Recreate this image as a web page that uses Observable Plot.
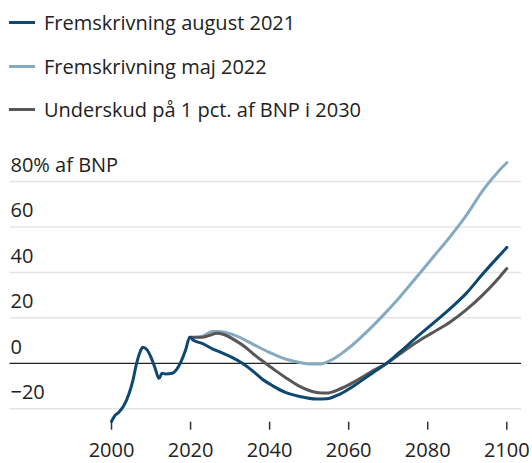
<!DOCTYPE html>
<html>
<head>
<meta charset="utf-8">
<script src="https://cdn.jsdelivr.net/npm/d3@7"></script>
<script src="https://cdn.jsdelivr.net/npm/@observablehq/plot@0.6"></script>
<style>
  html, body { margin: 0; padding: 0; background: #fff; }
  body { width: 532px; height: 463px; overflow: hidden; font-family: "Open Sans", sans-serif; color: #222; }
  #legend { height: 135px; box-sizing: border-box; padding-top: 1px; }
  .row { height: 43.5px; display: flex; align-items: center; font-size: 20px; }
  .sw { width: 26px; height: 3px; margin-left: 9px; margin-right: 9px; }
</style>
</head>
<body>
<div id="legend"></div>
<div id="chart"></div>
<script>
const seriesNames = ["Fremskrivning august 2021", "Fremskrivning maj 2022", "Underskud på 1 pct. af BNP i 2030"];
const seriesColors = ["#0c4870", "#86aac2", "#575757"];

const aug2021Years = [2000.0, 2000.8, 2001.8, 2003.1, 2004.4, 2005.4, 2006.3, 2007.2, 2007.9, 2009.0, 2010.0, 2011.1, 2012.0, 2012.8, 2013.7, 2015.4, 2016.4, 2017.5, 2018.7, 2019.8, 2020.8, 2022.9, 2025.5, 2028.0, 2030.5, 2033.1, 2035.6, 2038.1, 2040.7, 2044.0, 2047.6, 2051.9, 2054.4, 2057.8, 2062.0, 2066.2, 2069.6, 2072.9, 2077.2, 2081.4, 2085.6, 2089.8, 2094.0, 2098.2, 2100];
const aug2021Values = [-25.6, -23.1, -21.6, -18.7, -13.5, -7.6, -0.3, 4.9, 7.1, 5.9, 2.6, -2.5, -6.6, -4.4, -4.7, -4.4, -2.9, 0.4, 5.6, 11.5, 10.0, 8.8, 6.4, 4.6, 2.6, 0, -3.2, -6.9, -9.8, -12.8, -14.6, -15.7, -15.6, -13.5, -9.1, -4.0, 0, 4.9, 11.5, 17.7, 24.0, 30.9, 39.5, 47.6, 51.0];

const maj2022Years = [2021.2, 2022.9, 2025.5, 2027.2, 2031.4, 2035.6, 2039.8, 2044.0, 2047.6, 2050.2, 2052.7, 2056.1, 2060.3, 2064.5, 2068.7, 2072.9, 2077.2, 2081.4, 2085.6, 2089.8, 2094.0, 2098.2, 2100];
const maj2022Values = [11.5, 11.8, 14.0, 14.0, 12.2, 8.6, 4.9, 1.9, 0.4, -0.3, -0.3, 1.9, 7.1, 13.7, 21.1, 29.1, 38.0, 46.8, 55.6, 65.2, 76.2, 85.1, 88.3];

const deficitYears = [2019.8, 2021.2, 2022.9, 2024.6, 2026.7, 2028.4, 2031.4, 2033.9, 2036.4, 2039.0, 2041.5, 2044.0, 2047.6, 2051.9, 2054.4, 2057.8, 2062.0, 2066.2, 2069.6, 2072.9, 2077.2, 2081.4, 2085.6, 2089.8, 2094.0, 2098.2, 2100];
const deficitValues = [11.5, 11.5, 11.5, 12.2, 13.2, 12.7, 10.0, 7.1, 3.4, 0, -3.2, -6.2, -10.1, -12.8, -13.1, -11.3, -7.6, -3.2, 0, 4.1, 9.3, 13.7, 18.1, 23.6, 30.2, 38.0, 41.7];

const xTicks = [2000, 2020, 2040, 2060, 2080, 2100];
const yTicks = [-20, 0, 20, 40, 60, 80];
const yTickLabels = ["−20", "0", "20", "40", "60", "80% af BNP"];

const toRows = (ys, vs, s) => ys.map((y, i) => ({year: y, value: vs[i], series: s}));
const aug = toRows(aug2021Years, aug2021Values, seriesNames[0]);
const maj = toRows(maj2022Years, maj2022Values, seriesNames[1]);
const def = toRows(deficitYears, deficitValues, seriesNames[2]);

// legend
const legend = document.getElementById("legend");
seriesNames.forEach((n, i) => {
  const r = document.createElement("div");
  r.className = "row";
  r.innerHTML = `<span class="sw" style="background:${seriesColors[i]}"></span><span>${n}</span>`;
  legend.appendChild(r);
});

const chart = Plot.plot({
  width: 532,
  height: 328,
  marginLeft: 9.5,
  marginRight: 11,
  marginTop: 46,
  marginBottom: 41.3,
  style: {fontFamily: "Open Sans", fontSize: "20px", color: "#222", background: "#fff", overflow: "visible"},
  x: {domain: [1974.32, 2103.72], label: null},
  y: {domain: [-25.9, 80], label: null},
  marks: [
    Plot.ruleY(yTicks.filter(d => d !== 0), {stroke: "#e4e4e4", strokeWidth: 1.5}),
    Plot.ruleY([0], {stroke: "#222", strokeWidth: 1.2}),
    Plot.axisY({ticks: yTicks, label: null, tickSize: 0, tickPadding: 0, textAnchor: "start", dx: 0.5, dy: -16,
      tickFormat: d => yTickLabels[yTicks.indexOf(d)], fill: "#222", fontSize: 20}),
    Plot.axisX({ticks: xTicks, label: null, tickFormat: d => String(d), tickSize: 8, tickPadding: 13, strokeWidth: 1.5, stroke: "#333", fill: "#222", fontSize: 20}),
    Plot.line(maj, {x: "year", y: "value", stroke: seriesColors[1], strokeWidth: 3, curve: "monotone-x"}),
    Plot.line(def, {x: "year", y: "value", stroke: seriesColors[2], strokeWidth: 3, curve: "monotone-x"}),
    Plot.line(aug, {x: "year", y: "value", stroke: seriesColors[0], strokeWidth: 3, curve: "monotone-x"})
  ]
});
document.getElementById("chart").appendChild(chart);
</script>
</body>
</html>
